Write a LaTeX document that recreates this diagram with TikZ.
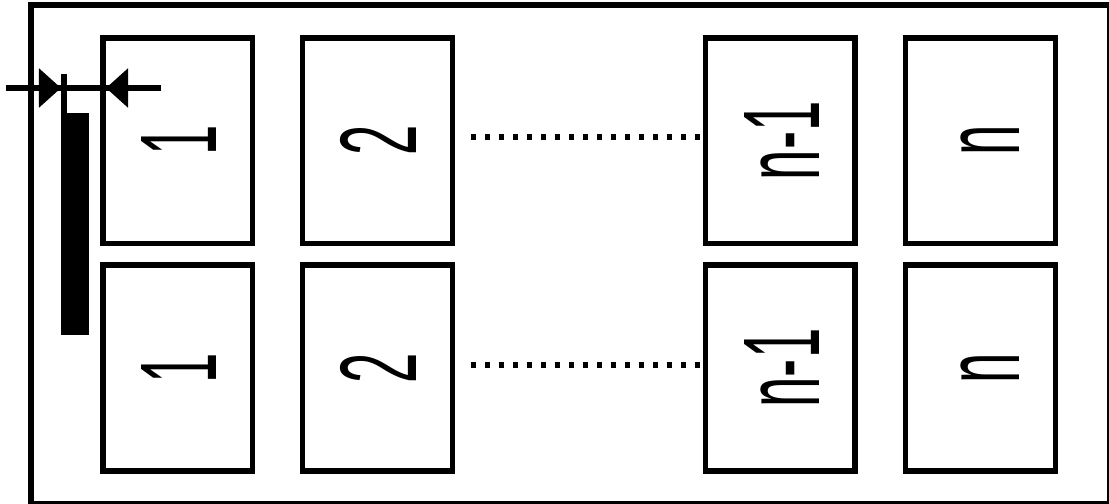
\documentclass[tikz,border=0pt]{standalone}
\usepackage{fontspec}
\setmainfont{Liberation Sans}
\usetikzlibrary{arrows.meta}
\begin{document}
\begin{tikzpicture}[x=0.01cm,y=-0.01cm,
  thick line/.style={line width=0.055cm},
  box/.style={draw,line width=0.055cm,minimum width=1.495cm,minimum height=2.055cm,inner sep=0pt},
  lab/.style={anchor=base,rotate=90,xscale=0.5,inner sep=0pt,font=\fontsize{31}{31}\selectfont},
  dots/.style={line width=0.06cm,dash pattern=on 0.05cm off 0.09cm},
  dimtip/.style={-{Triangle[length=0.22cm,width=0.38cm]}}
]
\useasboundingbox (0,0) rectangle (1109,504);
\draw[thick line] (31,5) rectangle (1110,504);
% boxes
\foreach \n/\x in {1/177.75,2/377.5,3/780.25,4/980.5} {
  \node[box] (a\n) at (\x,140.75) {};
  \node[box] (b\n) at (\x,368) {};
}
% labels
\foreach \n/\x/\t in {1/177.75/1,2/377.5/2,3/780.25/n-1,4/980.5/n} {
  \node[lab] (la\n) at (\x+39,140.75) {\t};
  \node[lab] (lb\n) at (\x+39,368) {\t};
}
% dotted connectors
\draw[dots] ([xshift=0.16cm,yshift=0.0375cm]a2.east) -- ([yshift=0.0375cm]a3.west);
\draw[dots] ([xshift=0.16cm,yshift=0.03cm]b2.east) -- ([yshift=0.03cm]b3.west);
% bar and dimension
\fill (61,113) rectangle (89,335);
\coordinate (e1) at (64,74);
\coordinate (e2) at (64,113);
\draw[thick line] (e1) -- (e2);
\coordinate (d0) at (6,88);
\coordinate (d1) at (161,88);
\coordinate (t1) at (61,88);
\coordinate (t2) at (106,88);
\draw[thick line] (d0) -- (d1);
\draw[thick line,dimtip] (d0) -- (t1);
\draw[thick line,dimtip] (d1) -- (t2);
\end{tikzpicture}
\end{document}
